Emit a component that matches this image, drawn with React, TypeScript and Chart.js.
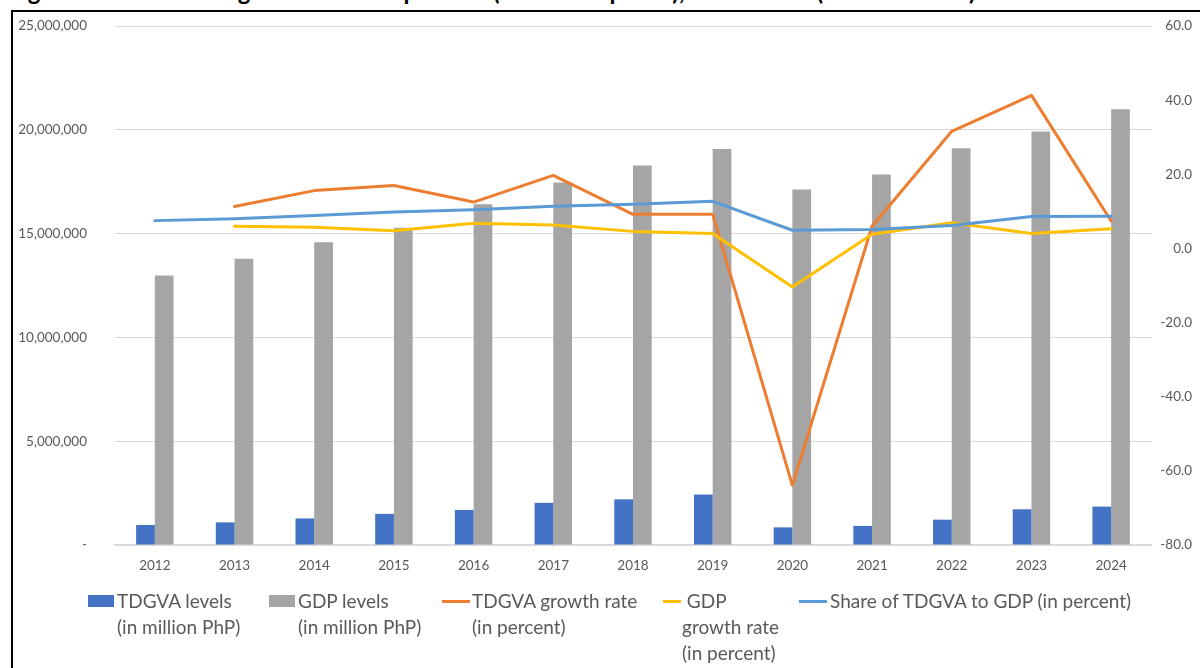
import React, { useEffect, useRef } from "react";
import { Chart, registerables } from "chart.js";

Chart.register(...registerables);

const years = ["2012", "2013", "2014", "2015", "2016", "2017", "2018", "2019", "2020", "2021", "2022", "2023", "2024"];
const tdgvaLevels = [965000, 1090000, 1280000, 1500000, 1690000, 2030000, 2200000, 2430000, 850000, 920000, 1220000, 1720000, 1850000];
const gdpLevels = [12980000, 13790000, 14580000, 15280000, 16410000, 17460000, 18280000, 19070000, 17130000, 17850000, 19110000, 19920000, 20990000];
const tdgvaGrowth = [null, 11.3, 15.6, 17.0, 12.5, 19.7, 9.2, 9.2, -63.9, 6.0, 31.6, 41.3, 7.4];
const gdpGrowth = [null, 6.0, 5.7, 4.8, 6.8, 6.3, 4.6, 4.0, -10.4, 3.8, 6.9, 4.0, 5.3];
const shareOfGdp = [7.5, 8.0, 8.9, 9.8, 10.4, 11.4, 11.9, 12.7, 4.9, 5.1, 6.2, 8.6, 8.7];

const leftTicks = { min: 0, max: 25000000, step: 5000000 };
const rightTicks = { min: -80, max: 60, step: 20 };

const titleText = "Figure 3. TDGVA and gross domestic product (at current prices), 2012-2024 (in million PhP)";

const FONT = "Lato, 'Open Sans', sans-serif";
const TEXT = "#595959";

export default function App() {
  const ref = useRef<HTMLCanvasElement | null>(null);

  useEffect(() => {
    if (!ref.current) return;
    const chart = new Chart(ref.current, {
      type: "bar",
      data: {
        labels: years,
        datasets: [
          {
            type: "line",
            label: "Share of TDGVA to GDP (in percent)",
            data: shareOfGdp,
            yAxisID: "y1",
            borderColor: "#5B9BD5",
            backgroundColor: "#5B9BD5",
            borderWidth: 3,
            pointRadius: 0,
            borderJoinStyle: "round",
            borderCapStyle: "round",
            order: 1,
          },
          {
            type: "line",
            label: "GDP growth rate (in percent)",
            data: gdpGrowth,
            yAxisID: "y1",
            borderColor: "#FFC000",
            backgroundColor: "#FFC000",
            borderWidth: 3,
            pointRadius: 0,
            borderJoinStyle: "round",
            borderCapStyle: "round",
            order: 2,
          },
          {
            type: "line",
            label: "TDGVA growth rate (in percent)",
            data: tdgvaGrowth,
            yAxisID: "y1",
            borderColor: "#ED7D31",
            backgroundColor: "#ED7D31",
            borderWidth: 3,
            pointRadius: 0,
            borderJoinStyle: "round",
            borderCapStyle: "round",
            order: 3,
          },
          {
            type: "bar",
            label: "TDGVA levels (in million PhP)",
            data: tdgvaLevels,
            yAxisID: "y",
            backgroundColor: "#4472C4",
            barPercentage: 1,
            categoryPercentage: 0.47,
            order: 10,
          },
          {
            type: "bar",
            label: "GDP levels (in million PhP)",
            data: gdpLevels,
            yAxisID: "y",
            backgroundColor: "#A5A5A5",
            barPercentage: 1,
            categoryPercentage: 0.47,
            order: 11,
          },
        ] as any,
      },
      options: {
        animation: false,
        responsive: false,
        maintainAspectRatio: false,
        devicePixelRatio: 1,
        layout: { padding: { top: 26, left: 0, right: 8, bottom: 0 } },
        plugins: {
          legend: { display: false },
          tooltip: { enabled: false },
          title: { display: false },
        },
        scales: {
          x: {
            grid: { display: false, drawTicks: false },
            border: { display: true, color: "#d9d9d9", width: 1.5 },
            ticks: { color: TEXT, font: { family: FONT, size: 13.5 }, padding: 13, maxRotation: 0 },
            afterFit: (s: any) => {
              s.height = 45;
            },
          },
          y: {
            position: "left",
            min: leftTicks.min,
            max: leftTicks.max,
            grid: { color: "#d9d9d9", lineWidth: 1, drawTicks: false },
            border: { display: false },
            ticks: {
              stepSize: leftTicks.step,
              color: TEXT,
              font: { family: FONT, size: 13.5 },
              padding: 28,
              callback: (v: any) => (Number(v) === 0 ? "-" : Number(v).toLocaleString("en-US")),
            },
            afterFit: (s: any) => {
              s.width = 115;
              s.paddingTop = 0;
              s.paddingBottom = 0;
            },
          },
          y1: {
            position: "right",
            min: rightTicks.min,
            max: rightTicks.max,
            grid: { display: false, drawTicks: false },
            border: { display: false },
            ticks: {
              stepSize: rightTicks.step,
              color: TEXT,
              font: { family: FONT, size: 13.5 },
              crossAlign: "far",
              callback: (v: any) => Number(v).toFixed(1),
            },
            afterFit: (s: any) => {
              s.width = 41;
              s.paddingTop = 0;
              s.paddingBottom = 0;
            },
          },
        },
      } as any,
    });
    return () => chart.destroy();
  }, []);

  const legendText: React.CSSProperties = {
    position: "absolute",
    fontFamily: FONT,
    fontSize: 19,
    lineHeight: "26px",
    color: TEXT,
    whiteSpace: "nowrap",
    top: 588,
  };

  return (
    <div
      style={{
        position: "fixed",
        left: 0,
        top: 0,
        width: 1200,
        height: 668,
        overflow: "hidden",
        background: "#fff",
      }}
    >
      <div
        style={{
          position: "absolute",
          left: 8,
          top: -23,
          fontFamily: FONT,
          fontWeight: 700,
          fontSize: 24,
          lineHeight: "28px",
          whiteSpace: "nowrap",
          color: "#000",
        }}
      >
        {titleText}
      </div>
      <div
        style={{
          position: "absolute",
          left: 11,
          top: 10,
          width: 1300,
          height: 800,
          border: "2px solid #000",
          boxSizing: "border-box",
        }}
      />
      <canvas
        ref={ref}
        width={1200}
        height={590}
        style={{ position: "absolute", left: 0, top: 0, width: 1200, height: 590 }}
      />
      {/* legend */}
      <div style={{ position: "absolute", left: 88, top: 595, width: 26, height: 12, background: "#4472C4" }} />
      <div style={{ ...legendText, left: 117 }}>
        TDGVA levels
        <br />
        (in million PhP)
      </div>
      <div style={{ position: "absolute", left: 269, top: 595, width: 26, height: 12, background: "#A5A5A5" }} />
      <div style={{ ...legendText, left: 298 }}>
        GDP levels
        <br />
        (in million PhP)
      </div>
      <div style={{ position: "absolute", left: 442, top: 600, width: 28, height: 3, background: "#ED7D31" }} />
      <div style={{ ...legendText, left: 472 }}>
        TDGVA growth rate
        <br />
        (in percent)
      </div>
      <div style={{ position: "absolute", left: 663, top: 600, width: 18, height: 3, background: "#FFC000" }} />
      <div style={{ ...legendText, left: 682 }}>
        {"\u00a0GDP"}
        <br />
        growth rate
        <br />
        (in percent)
      </div>
      <div style={{ position: "absolute", left: 799, top: 600, width: 28, height: 3, background: "#5B9BD5" }} />
      <div style={{ ...legendText, left: 830 }}>Share of TDGVA to GDP (in percent)</div>
    </div>
  );
}
